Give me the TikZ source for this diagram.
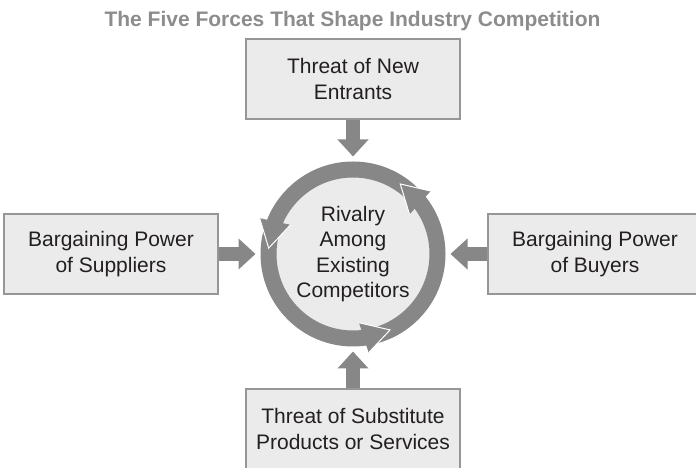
\documentclass[tikz,border=0pt]{standalone}
\usepackage{fontspec}
\setmainfont{Liberation Sans}
\usetikzlibrary{arrows.meta,calc}
\definecolor{boxfill}{RGB}{235,235,235}
\definecolor{boxline}{RGB}{150,150,150}
\definecolor{arrowgray}{RGB}{135,135,135}
\definecolor{titlegray}{RGB}{140,140,140}
\definecolor{textdark}{RGB}{35,31,32}

\begin{document}
\begin{tikzpicture}[x=1pt,y=1pt,
    heading/.style={anchor=base,text=titlegray,font=\fontsize{21}{25}\selectfont\bfseries},
    force/.style={draw=boxline,line width=1.2pt,fill=boxfill,minimum width=214pt,minimum height=80pt,
      align=center,text=textdark,font=\fontsize{21}{25.5}\selectfont},
    rival/.style={circle,draw=arrowgray,line width=16pt,fill=boxfill,minimum size=169pt,inner sep=0pt,
      align=center,text=textdark,font=\fontsize{21}{25.5}\selectfont},
    push/.style={draw=arrowgray,line width=14pt,-{Triangle[width=30pt,length=17pt]},shorten >=5pt},
    cyclehead/.style={draw=white,line width=1pt,fill=arrowgray}]
    \useasboundingbox (0,0) rectangle (696,468);
    \node[heading] (title) at (352.5,441) {The Five Forces That Shape Industry Competition};
    \node[force] (entrants) at (353,389) {Threat of New\\Entrants};
    \node[force] (suppliers) at (111,214) {Bargaining Power\\of Suppliers};
    \node[force] (buyers) at (595,214) {Bargaining Power\\of Buyers};
    \node[force] (substitutes) at (353,39) {Threat of Substitute\\Products or Services};
    \node[rival] (rivalry) at (353,214) {Rivalry\\Among\\Existing\\Competitors};
    \foreach \a in {56,176,296}
      \filldraw[cyclehead] ($(rivalry.center)+(\a-21:69)$) -- ($(rivalry.center)+(\a:84.5)$)
        -- ($(rivalry.center)+(\a-17:100)$);
    \draw[push] (entrants) -- (rivalry);
    \draw[push] (suppliers) -- (rivalry);
    \draw[push] (buyers) -- (rivalry);
    \draw[push] (substitutes) -- (rivalry);
\end{tikzpicture}
\end{document}
